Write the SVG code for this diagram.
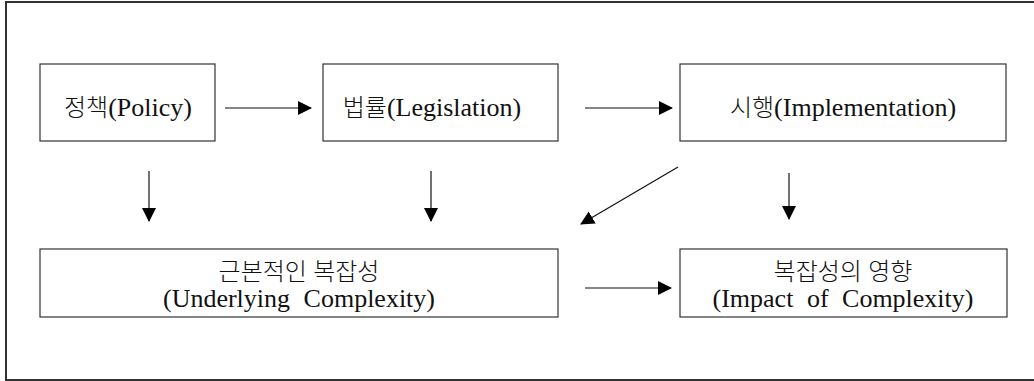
<svg xmlns="http://www.w3.org/2000/svg" width="1034" height="381" viewBox="0 0 1034 381">
  <style>
    .box { fill: #ffffff; stroke: #333333; stroke-width: 1.2; }
    .frame { fill: none; stroke: #333333; stroke-width: 2; }
    .lbl { font-family: "Liberation Serif", "Noto Sans CJK KR", serif; font-size: 26px; fill: #111111; text-anchor: middle; word-spacing: 7px; }
    .ko { font-family: "Noto Sans CJK KR", sans-serif; font-size: 24px; font-weight: 300; }
    .kl { word-spacing: 1px; }
    .conn line { stroke: #111111; stroke-width: 1.2; }
  </style>
  <defs>
    <marker id="head" markerWidth="14" markerHeight="14" refX="13" refY="7" orient="auto" markerUnits="userSpaceOnUse">
      <path d="M0,0 L14,7 L0,14 z" fill="#000000"/>
    </marker>
  </defs>

  <rect width="1034" height="381" fill="#ffffff"/>
  <rect class="frame" x="6" y="2" width="1040" height="378"/>

  <g id="policy">
    <rect class="box" x="40" y="64" width="175" height="77"/>
    <text class="lbl" x="128" y="116"><tspan class="ko">정책</tspan>(Policy)</text>
  </g>
  <g id="legislation">
    <rect class="box" x="323" y="64" width="235" height="77"/>
    <text class="lbl" x="432" y="116"><tspan class="ko">법률</tspan>(Legislation)</text>
  </g>
  <g id="implementation">
    <rect class="box" x="680" y="64" width="326" height="77"/>
    <text class="lbl" x="843" y="116"><tspan class="ko">시행</tspan>(Implementation)</text>
  </g>
  <g id="underlying">
    <rect class="box" x="40" y="249" width="518" height="68"/>
    <text class="lbl ko kl" x="299" y="280">근본적인 복잡성</text>
    <text class="lbl" x="299" y="307">(Underlying Complexity)</text>
  </g>
  <g id="impact">
    <rect class="box" x="680" y="249" width="327" height="68"/>
    <text class="lbl ko kl" x="843" y="280">복잡성의 영향</text>
    <text class="lbl" x="843" y="307">(Impact of Complexity)</text>
  </g>

  <g id="connectors" class="conn">
    <line x1="225" y1="108" x2="311" y2="108" marker-end="url(#head)"/>
    <line x1="585" y1="108" x2="672" y2="108" marker-end="url(#head)"/>
    <line x1="149" y1="171" x2="149" y2="221" marker-end="url(#head)"/>
    <line x1="431" y1="171" x2="431" y2="221" marker-end="url(#head)"/>
    <line x1="678" y1="167" x2="581" y2="224" marker-end="url(#head)"/>
    <line x1="789" y1="173" x2="789" y2="219" marker-end="url(#head)"/>
    <line x1="585" y1="288" x2="671" y2="288" marker-end="url(#head)"/>
  </g>
</svg>
